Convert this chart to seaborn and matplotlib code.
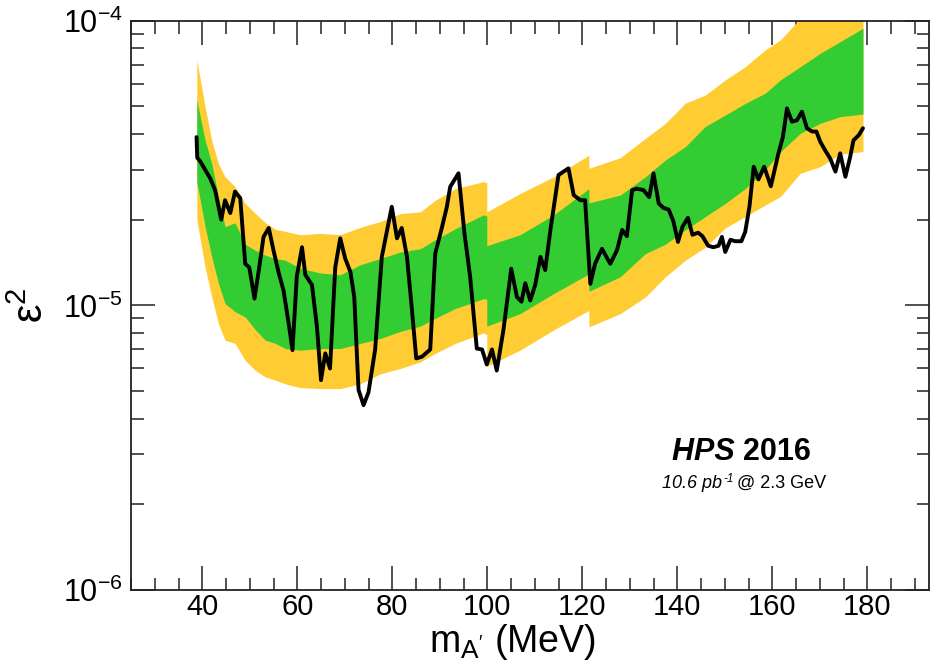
import numpy as np
import pandas as pd
import matplotlib
matplotlib.use("Agg")
import matplotlib.pyplot as plt
import seaborn as sns
from matplotlib.ticker import MultipleLocator, FixedLocator, FixedFormatter, NullFormatter

# ---------------- data (epsilon^2 in units of 1e-5) ----------------
mass_obs = [38.8, 38.95, 39.6, 40.6, 41.7, 42.7, 44.0, 44.8, 45.9, 46.9,
            48.0, 49.05, 49.9, 51.0, 52.0, 52.9, 54.0, 55.0, 56.1, 57.1,
            58.2, 59.0, 59.9, 61.0, 61.7, 63.1, 64.15, 65.0, 65.9, 66.9,
            68.0, 69.05, 70.1, 71.2, 72.0, 72.9, 73.96, 75.0, 76.4, 77.8,
            79.9, 81.0, 82.0, 83.1, 84.15, 85.05, 86.25, 88.0, 89.05, 90.5,
            91.5, 92.2, 93.95, 95.2, 96.4, 97.8, 98.9, 99.9, 101.0, 102.0,
            103.4, 105.05, 106.25, 107.2, 108.0, 109.05, 110.1, 111.2, 112.2, 113.3,
            115.0, 117.1, 118.2, 119.6, 120.6, 121.7, 122.7, 124.15, 125.9, 127.3,
            128.4, 129.4, 130.5, 131.5, 132.9, 134.1, 135.0, 136.1, 137.1, 138.2,
            139.2, 140.15, 141.1, 142.25, 143.2, 144.4, 145.3, 146.5, 147.6, 148.7,
            149.4, 150.1, 151.2, 152.2, 153.5, 154.3, 155.2, 156.1, 157.1, 158.3,
            159.7, 161.3, 162.25, 163.1, 164.15, 165.2, 166.25, 167.3, 168.4, 169.3,
            170.1, 171.2, 172.2, 173.3, 174.3, 175.4, 176.4, 177.1, 178.2, 179.1]
eps2_obs = [3.9, 3.3, 3.2, 3.0, 2.79, 2.54, 2.0, 2.34, 2.11, 2.51,
            2.38, 1.40, 1.36, 1.056, 1.36, 1.74, 1.87, 1.56, 1.30, 1.13,
            0.863, 0.696, 1.26, 1.60, 1.28, 1.18, 0.84, 0.546, 0.678, 0.60,
            1.36, 1.72, 1.46, 1.31, 1.07, 0.505, 0.446, 0.495, 0.70, 1.48,
            2.22, 1.72, 1.87, 1.48, 0.962, 0.651, 0.66, 0.70, 1.52, 1.89,
            2.22, 2.61, 2.91, 1.79, 1.26, 0.705, 0.70, 0.62, 0.70, 0.59,
            0.818, 1.345, 1.07, 1.03, 1.196, 1.04, 1.18, 1.48, 1.33, 1.84,
            2.87, 3.03, 2.44, 2.34, 2.34, 1.19, 1.40, 1.58, 1.40, 1.56,
            1.84, 1.75, 2.54, 2.57, 2.54, 2.40, 2.91, 2.28, 2.20, 2.17,
            1.97, 1.67, 1.89, 2.03, 1.77, 1.80, 1.75, 1.62, 1.60, 1.62,
            1.74, 1.54, 1.70, 1.68, 1.68, 1.81, 2.22, 3.07, 2.77, 3.07,
            2.62, 3.42, 3.91, 4.92, 4.42, 4.47, 4.79, 4.19, 4.08, 4.08,
            3.76, 3.49, 3.28, 2.95, 3.42, 2.83, 3.32, 3.80, 3.96, 4.19]

mass_band = [38.85, 40.6, 42.0, 43.4, 44.8, 46.9, 49.05, 51.2, 53.3, 55.4,
             57.5, 60.6, 64.8, 69.05, 73.3, 77.5, 81.7, 85.9, 89.05, 93.3,
             99.2, 99.9, 99.9, 106.9, 114.0, 121.4, 121.4, 128.0, 133.3, 137.5,
             141.7, 145.9, 150.1, 154.3, 158.5, 161.7, 165.9, 170.1, 174.3, 179.1]
yellow_hi = [7.27, 4.98, 3.80, 3.15, 2.83, 2.61, 2.28, 2.10, 1.95, 1.85,
             1.82, 1.77, 1.79, 1.77, 1.88, 1.97, 2.10, 2.13, 2.34, 2.57,
             2.72, 2.70, 2.13, 2.47, 2.83, 3.37, 3.03, 3.30, 3.86, 4.36,
             5.13, 5.48, 6.19, 6.89, 7.89, 8.55, 10.2, 11.35, 12.3, 12.8]
green_hi = [5.27, 3.80, 3.15, 2.41, 1.89, 1.95, 1.64, 1.56, 1.50, 1.46,
            1.44, 1.35, 1.30, 1.28, 1.39, 1.46, 1.54, 1.58, 1.70, 1.86,
            2.08, 2.06, 1.62, 1.77, 2.08, 2.57, 2.29, 2.44, 2.83, 3.24,
            3.61, 4.25, 4.66, 5.12, 5.56, 6.19, 6.89, 7.68, 8.44, 9.4]
green_lo = [2.72, 1.89, 1.48, 1.196, 1.015, 0.95, 0.91, 0.82, 0.754, 0.735,
            0.705, 0.696, 0.705, 0.705, 0.735, 0.765, 0.81, 0.845, 0.90, 0.975,
            1.055, 1.05, 0.845, 0.935, 1.10, 1.29, 1.12, 1.26, 1.52, 1.64,
            1.84, 2.05, 2.28, 2.57, 2.99, 3.46, 4.02, 4.36, 4.60, 4.70]
yellow_lo = [2.00, 1.36, 1.07, 0.863, 0.754, 0.735, 0.64, 0.59, 0.56, 0.546,
             0.53, 0.514, 0.51, 0.51, 0.53, 0.575, 0.60, 0.633, 0.678, 0.735,
             0.80, 0.79, 0.61, 0.696, 0.82, 0.96, 0.84, 0.935, 1.07, 1.26,
             1.44, 1.60, 1.87, 2.05, 2.25, 2.41, 2.91, 3.07, 3.40, 3.47]

x_major_ticks = [40, 60, 80, 100, 120, 140, 160, 180]
y_major_ticks = [1e-6, 1e-5, 1e-4]
y_tick_labels = [r"$\mathregular{10^{-6}}$", r"$\mathregular{10^{-5}}$", r"$\mathregular{10^{-4}}$"]

UNIT = 1e-5
obs = pd.DataFrame({"mass": mass_obs, "eps2": np.array(eps2_obs) * UNIT})
band = pd.DataFrame({"mass": mass_band,
                     "y_hi": np.array(yellow_hi) * UNIT, "g_hi": np.array(green_hi) * UNIT,
                     "g_lo": np.array(green_lo) * UNIT, "y_lo": np.array(yellow_lo) * UNIT})

# ---------------- style ----------------
sns.set_style("ticks")
plt.rcParams["font.family"] = ["Liberation Sans", "DejaVu Sans"]
plt.rcParams["mathtext.fontset"] = "custom"
plt.rcParams["mathtext.rm"] = "Liberation Sans"
plt.rcParams["mathtext.it"] = "Liberation Sans:italic"
plt.rcParams["mathtext.bf"] = "Liberation Sans:bold"
for key in ("text.color", "axes.labelcolor", "xtick.color", "ytick.color",
            "xtick.labelcolor", "ytick.labelcolor"):
    plt.rcParams[key] = "black"

fig = plt.figure(figsize=(9.36, 6.64), dpi=100)
W, H = 936, 664
left, right, top, bottom = 131, 929, 20.7, 590
ax = fig.add_axes([left / W, (H - bottom) / H, (right - left) / W, (bottom - top) / H])

YELLOW = "#FFCC33"
GREEN = "#33CC33"
ax.fill_between(band["mass"], band["y_lo"], band["y_hi"], color=YELLOW, lw=0, zorder=1)
ax.fill_between(band["mass"], band["g_lo"], band["g_hi"], color=GREEN, lw=0, zorder=2)
sns.lineplot(data=obs, x="mass", y="eps2", color="black", lw=2.8, ax=ax, zorder=3,
             sort=False, estimator=None)

ax.set_yscale("log")
ax.set_xlim(25, 193)
ax.set_ylim(1e-6, 1e-4)

ax.xaxis.set_major_locator(FixedLocator(x_major_ticks))
ax.xaxis.set_minor_locator(MultipleLocator(5))
ax.yaxis.set_major_locator(FixedLocator(y_major_ticks))
ax.yaxis.set_major_formatter(FixedFormatter(y_tick_labels))
minors = [k * 10.0 ** e for e in (-6, -5) for k in range(2, 10)]
ax.yaxis.set_minor_locator(FixedLocator(minors))
ax.yaxis.set_minor_formatter(NullFormatter())

ax.tick_params(which="both", direction="in", top=True, right=True, width=1.1,
               color="#222222", labelcolor="black")
ax.tick_params(which="major", length=17)
ax.tick_params(which="minor", length=9)
ax.tick_params(axis="x", which="major", labelsize=21, pad=2)
ax.tick_params(axis="y", which="major", labelsize=22, pad=6)
for s in ax.spines.values():
    s.set_linewidth(1.3)
    s.set_color("#222222")

ax.set_ylabel(r"ε$^{\mathregular{2}}$", fontsize=30, rotation=90, color="black")
ax.yaxis.set_label_coords((52 - left) / (right - left), 0.5)

renderer = fig.canvas.get_renderer()
fig.canvas.draw()
tick_bottom = min(t.get_window_extent(renderer).y0
                  for t in ax.get_xticklabels() if t.get_text())
fs = 27.0
xl = ax.set_xlabel(r"m$_{\mathregular{A'}}$ (MeV)", fontsize=fs, va="top", color="black")
ax_h = (bottom - top)
ax.xaxis.set_label_coords((512 - left) / (right - left),
                          (tick_bottom - 1 - (H - bottom)) / ax_h)
while True:
    fig.canvas.draw()
    if xl.get_window_extent(renderer).y0 >= 1 or fs <= 16:
        break
    fs -= 0.5
    xl.set_fontsize(fs)

t_hps = fig.text(672 / W, (H - 460) / H, "HPS ", fontsize=22, fontweight="bold",
                 style="italic", ha="left", va="baseline", color="black")
bb = t_hps.get_window_extent(renderer)
fig.text(bb.x1 / W, (H - 460) / H, "2016", fontsize=22, fontweight="bold",
         ha="left", va="baseline", color="black")
t_lum = fig.text(662 / W, (H - 488) / H, "10.6 pb", fontsize=13, style="italic",
                 ha="left", va="baseline", color="black")
bb2 = t_lum.get_window_extent(renderer)
t_sup = fig.text((bb2.x1 + 1) / W, (H - 482) / H, "-1", fontsize=8.5, style="italic",
                 ha="left", va="baseline", color="black")
bb3 = t_sup.get_window_extent(renderer)
fig.text((bb3.x1 + 4) / W, (H - 488) / H, "@ 2.3 GeV", fontsize=13, ha="left",
         va="baseline", color="black")

fig.savefig("out.png", dpi=100)
